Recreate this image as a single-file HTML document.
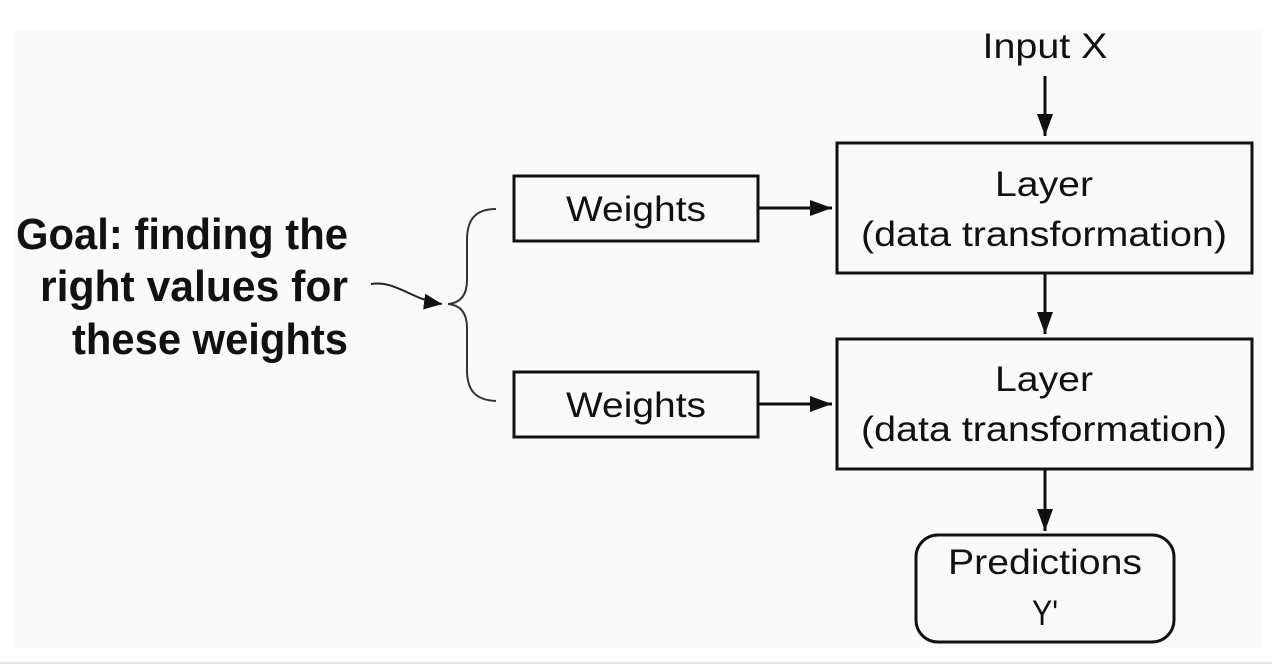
<!DOCTYPE html>
<html><head><meta charset="utf-8"><style>
html,body{margin:0;padding:0;background:#fff;width:1272px;height:666px;overflow:hidden}
</style></head><body>
<svg width="1272" height="666" viewBox="0 0 1272 666" xmlns="http://www.w3.org/2000/svg">
<defs><marker id="a" markerWidth="18" markerHeight="16" refX="18" refY="8" orient="auto" markerUnits="userSpaceOnUse"><path d="M0,0 L18,8 L0,16 z" fill="#111"/></marker>
<marker id="b" markerWidth="22" markerHeight="16" refX="22" refY="8" orient="auto" markerUnits="userSpaceOnUse"><path d="M0,0 L22,8 L0,16 z" fill="#111"/></marker></defs>
<rect x="0" y="0" width="1272" height="666" fill="#fff"/>
<rect x="15" y="30" width="1246" height="618" fill="#fafafa"/>
<line x1="0" y1="663" x2="1272" y2="663" stroke="#e6e6e6" stroke-width="2"/>
<g font-family="Liberation Sans, sans-serif" font-size="35" fill="#111" text-anchor="middle">
<text x="1045" y="58" textLength="125" lengthAdjust="spacingAndGlyphs">Input X</text>
<line x1="1045" y1="76" x2="1045" y2="136" stroke="#111" stroke-width="3" marker-end="url(#b)"/>
<rect x="837" y="143" width="415" height="130" fill="#fafafa" stroke="#111" stroke-width="3"/>
<text x="1044" y="196" textLength="98" lengthAdjust="spacingAndGlyphs">Layer</text>
<text x="1044" y="246" textLength="366" lengthAdjust="spacingAndGlyphs">(data transformation)</text>
<line x1="1045" y1="274" x2="1045" y2="334" stroke="#111" stroke-width="3" marker-end="url(#b)"/>
<rect x="837" y="339" width="415" height="130" fill="#fafafa" stroke="#111" stroke-width="3"/>
<text x="1044" y="391" textLength="98" lengthAdjust="spacingAndGlyphs">Layer</text>
<text x="1044" y="441" textLength="366" lengthAdjust="spacingAndGlyphs">(data transformation)</text>
<line x1="1045" y1="470" x2="1045" y2="531" stroke="#111" stroke-width="3" marker-end="url(#b)"/>
<rect x="916" y="535" width="258" height="107" rx="22" fill="#fafafa" stroke="#111" stroke-width="3"/>
<text x="1045" y="574" textLength="194" lengthAdjust="spacingAndGlyphs">Predictions</text>
<text x="1045" y="625" textLength="26" lengthAdjust="spacingAndGlyphs">Y'</text>
<rect x="514" y="176" width="244" height="65" fill="#fafafa" stroke="#111" stroke-width="3"/>
<text x="636" y="221" textLength="140" lengthAdjust="spacingAndGlyphs">Weights</text>
<line x1="758" y1="208" x2="832" y2="208" stroke="#111" stroke-width="3" marker-end="url(#b)"/>
<rect x="514" y="372" width="244" height="65" fill="#fafafa" stroke="#111" stroke-width="3"/>
<text x="636" y="417" textLength="140" lengthAdjust="spacingAndGlyphs">Weights</text>
<line x1="758" y1="404" x2="832" y2="404" stroke="#111" stroke-width="3" marker-end="url(#b)"/>
</g>
<path d="M496,209 C475,209 467,220 467,240 L467,280 C467,296 460,303 448,304 C460,305 467,312 467,328 L467,370 C467,390 475,400 496,401" fill="none" stroke="#333" stroke-width="2"/>
<path d="M371,284 C395,280 412,300 442,304" fill="none" stroke="#222" stroke-width="2" marker-end="url(#a)"/>
<g font-family="Liberation Sans, sans-serif" font-weight="bold" font-size="44" fill="#111" text-anchor="end">
<text x="348" y="249" textLength="332" lengthAdjust="spacingAndGlyphs">Goal: finding the</text>
<text x="348" y="301" textLength="308" lengthAdjust="spacingAndGlyphs">right values for</text>
<text x="348" y="354" textLength="276" lengthAdjust="spacingAndGlyphs">these weights</text>
</g>
</svg>
</body></html>
